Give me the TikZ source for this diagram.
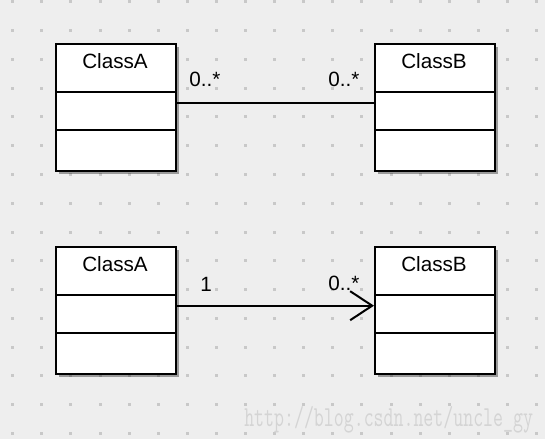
\documentclass[tikz,border=0pt]{standalone}
\usepackage{fontspec}
\usepackage{graphicx}
\setmainfont{Liberation Sans}
\usetikzlibrary{arrows.meta,shadows}
\definecolor{bg}{RGB}{238,238,238}
\definecolor{dotgray}{RGB}{200,200,200}
\definecolor{markgray}{RGB}{212,212,212}
\tikzset{
	umlclass/.style={draw, line width=1.5pt, fill=white, minimum width=90pt, minimum height=95.25pt, inner sep=0pt,
		drop shadow={shadow xshift=2.25pt, shadow yshift=-2.25pt, fill=black, opacity=.35}},
	mult/.style={anchor=base west, inner sep=0pt}
}
\begin{document}
\begin{tikzpicture}[x=.75pt, y=-.75pt, font=\fontsize{15.5}{18}\selectfont, line join=miter, >={Straight Barb[length=16.5pt,width=21.75pt]}]
	\fill[bg] (0,0) rectangle (545,439);
	\useasboundingbox (0,0) rectangle (545,439);
	\foreach \i in {0,...,18} \foreach \j in {0,...,15} \fill[dotgray] (11.2+29.1*\i,.4+28.77*\j) rectangle ++(3,3);
	\foreach \n/\x/\y/\t in {A1/55/43/ClassA, B1/374/43/ClassB, A2/55/246/ClassA, B2/374/246/ClassB}{
		\node[umlclass, anchor=north west] (\n) at (\x,\y) {};
		\node[anchor=base, inner sep=0pt] (\n t) at (\x+60,\y+25.3) {\t};
		\draw[line width=1.5pt] ([yshift=-36.75pt]\n.north west) -- ([yshift=-36.75pt]\n.north east)
		([yshift=-64.9pt]\n.north west) -- ([yshift=-64.9pt]\n.north east);
	}
	\draw[line width=1.5pt] ([yshift=3.6pt]A1.east) -- ([yshift=3.6pt]B1.west);
	\draw[line width=1.5pt, ->] ([yshift=3.6pt]A2.east) -- ([yshift=3.6pt]B2.west);
	\node[mult] (m1) at (189,86.7) {0..*};
	\node[mult] (m2) at (328,86.7) {0..*};
	\node[mult] (m3) at (200,291) {1};
	\node[mult] (m4) at (328,290) {0..*};
	\node[anchor=base west, inner sep=0pt, text=markgray] (url) at (244,426)
	{\scalebox{1}[1.5]{\fontsize{14.5}{14}\ttfamily http://blog.csdn.net/uncle\_gy}};
\end{tikzpicture}
\end{document}
